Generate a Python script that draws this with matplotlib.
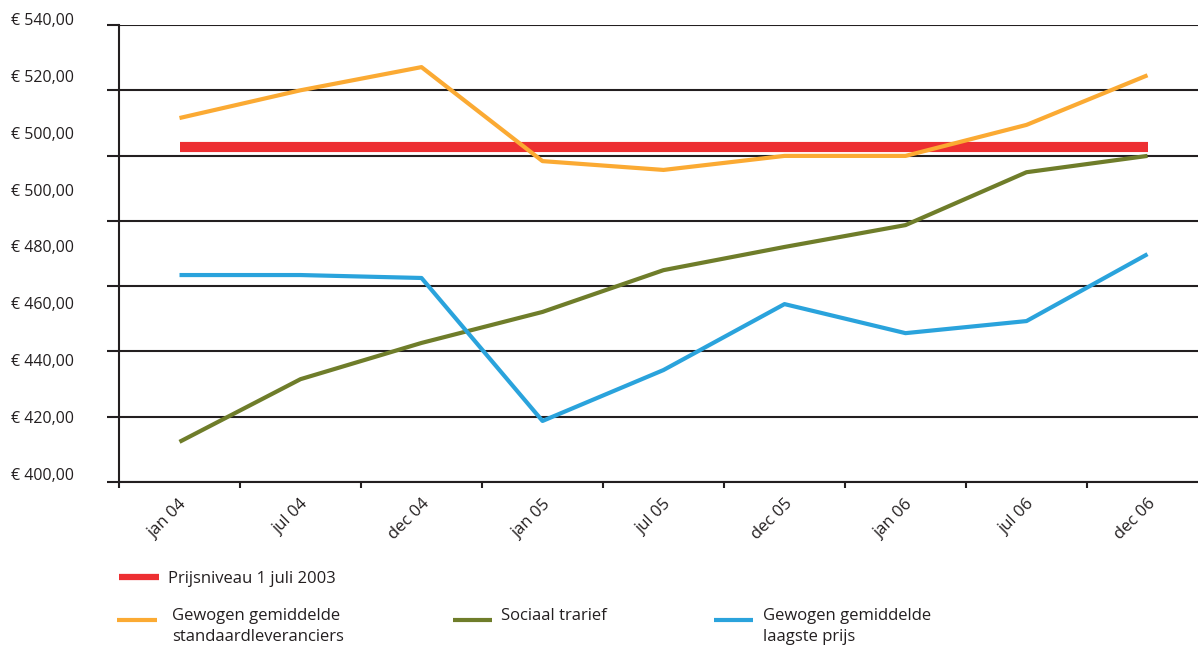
import matplotlib.pyplot as plt
from matplotlib.lines import Line2D

plt.rcParams['font.family'] = ['Open Sans', 'DejaVu Sans']

# values
months = ["jan 04", "jul 04", "dec 04", "jan 05", "jul 05", "dec 05", "jan 06", "jul 06", "dec 06"]
prijsniveau = [502.7, 502.7, 502.7, 502.7, 502.7, 502.7, 502.7, 502.7, 502.7]
standaard = [511.5, 520.0, 527.1, 498.3, 495.6, 499.9, 499.9, 509.4, 524.6]
sociaal = [412.3, 431.5, 442.6, 452.1, 464.9, 472.0, 478.7, 494.9, 499.9]
laagste = [463.4, 463.4, 462.5, 418.7, 434.3, 454.5, 445.6, 449.3, 469.8]

# y labels as printed in the original (they do not line up with the grid)
y_labels = ["€ 540,00", "€ 520,00", "€ 500,00", "€ 500,00", "€ 480,00",
            "€ 460,00", "€ 440,00", "€ 420,00", "€ 400,00"]
grid_vals = [400, 420, 440, 460, 480, 500, 520, 540]

red = "#ED2F32"
orange = "#FBAA33"
olive = "#6F7D2A"
blue = "#2AA3DC"
dark = "#231F20"

W, H = 1198, 647
fig = plt.figure(figsize=(W / 100, H / 100), dpi=100)
ax = fig.add_axes([119 / W, (H - 482) / H, (W - 119) / W, (482 - 25) / H])

x = list(range(len(months)))
ax.plot(x, prijsniveau, color=red, lw=7.3, solid_capstyle="butt", zorder=3)
ax.plot(x, standaard, color=orange, lw=3.0, solid_capstyle="butt", zorder=4)
ax.plot(x, sociaal, color=olive, lw=3.0, solid_capstyle="butt", zorder=3)
ax.plot(x, laagste, color=blue, lw=3.0, solid_capstyle="butt", zorder=4)

ax.set_ylim(400, 540)
ax.set_xlim(-0.5, -0.5 + (W - 119) / 121)

for s in ["top", "right"]:
    ax.spines[s].set_visible(False)
ax.spines["left"].set_color(dark)
ax.spines["left"].set_linewidth(1.5)
ax.spines["bottom"].set_color(dark)
ax.spines["bottom"].set_linewidth(1.5)

ax.set_yticks(grid_vals)
ax.set_yticklabels([])
ax.tick_params(axis="y", length=9, width=1.5, color=dark)
ax.grid(axis="y", color=dark, lw=1.5, zorder=1)
ax.set_axisbelow(True)

ax.set_xticks([i - 0.5 for i in range(len(months))], minor=True)
ax.set_xticks(x)
ax.set_xticklabels(months, rotation=45, ha="right", va="top", rotation_mode="anchor",
                   fontsize=12, color=dark)
ax.tick_params(axis="x", which="major", length=0, pad=10)
ax.tick_params(axis="x", which="minor", length=4, width=1.5, color=dark)

for i, lab in enumerate(y_labels):
    yp = 21 + i * (476 - 21) / 8
    fig.text(74 / W, 1 - yp / H, lab, ha="right", va="center", fontsize=11.5, color=dark)

# legend drawn by hand below the plot
def handle(x0, x1, y, color, lw):
    fig.add_artist(Line2D([x0 / W, x1 / W], [1 - y / H, 1 - y / H], color=color, lw=lw,
                          solid_capstyle="butt", transform=fig.transFigure))

handle(119, 159, 577, red, 4.5)
fig.text(168 / W, 1 - 579 / H, "Prijsniveau 1 juli 2003", ha="left", va="center",
         fontsize=12, color=dark)
handle(117, 157, 620, orange, 3)
fig.text(172 / W, 1 - 608 / H, "Gewogen gemiddelde\nstandaardleveranciers", ha="left",
         va="top", fontsize=12, color=dark, linespacing=1.4)
handle(453, 492, 620, olive, 3)
fig.text(501 / W, 1 - 616 / H, "Sociaal trarief", ha="left", va="center",
         fontsize=12, color=dark)
handle(714, 753, 620, blue, 3)
fig.text(763 / W, 1 - 608 / H, "Gewogen gemiddelde\nlaagste prijs", ha="left",
         va="top", fontsize=12, color=dark, linespacing=1.4)

fig.savefig("out.png", dpi=100)
